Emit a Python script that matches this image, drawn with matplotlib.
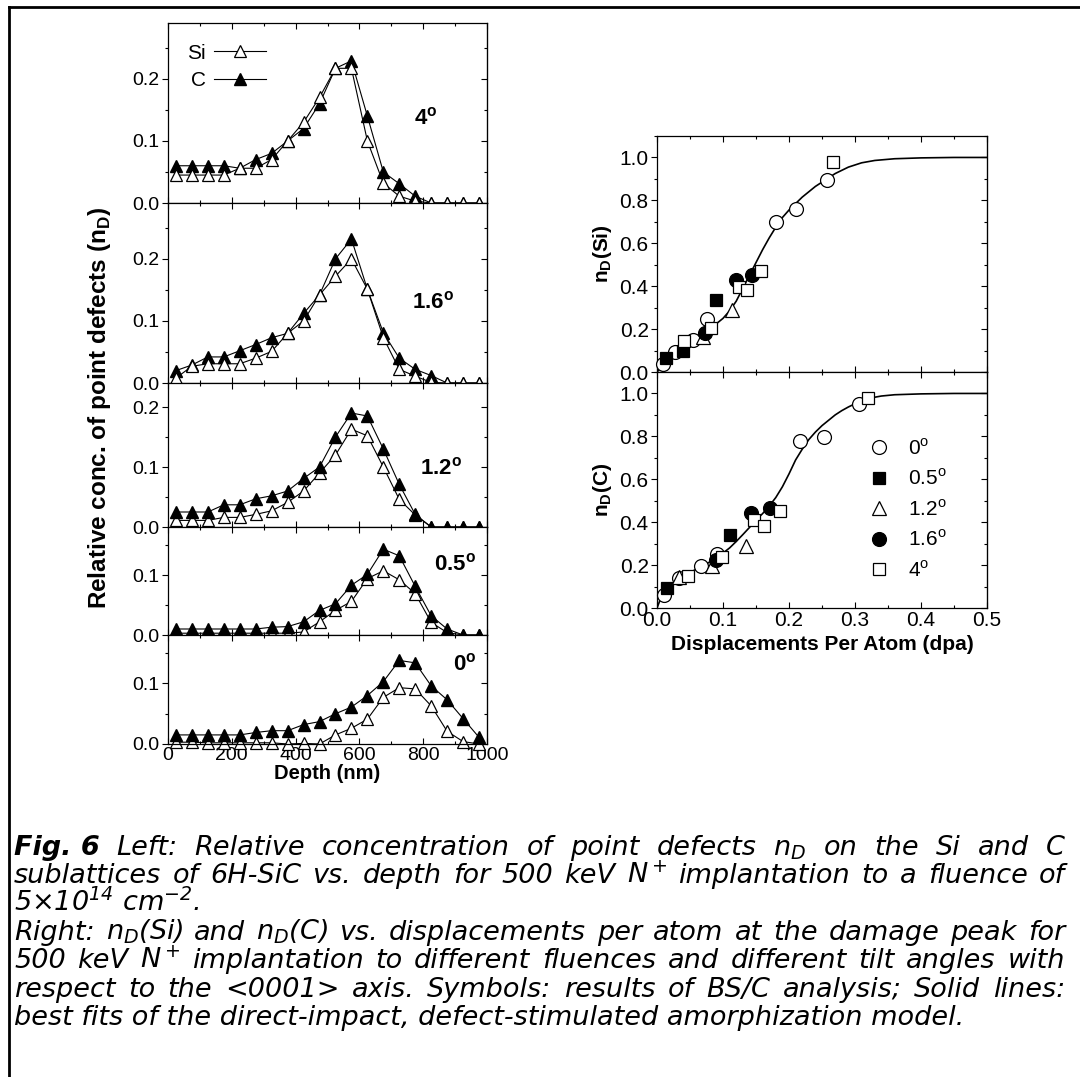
import matplotlib.pyplot as plt
from matplotlib.lines import Line2D
from matplotlib.ticker import MultipleLocator

plt.rcParams['font.family'] = 'Liberation Sans'
plt.rcParams['mathtext.fontset'] = 'custom'
plt.rcParams['mathtext.rm'] = 'DejaVu Sans:italic'
plt.rcParams['mathtext.it'] = 'DejaVu Sans:italic'
plt.rcParams['mathtext.bf'] = 'Liberation Sans:bold'
plt.rcParams['mathtext.sf'] = 'Liberation Sans'

# depth profiles (nm) of relative point defect concentration, Si and C sublattices
depth = [25, 75, 125, 175, 225, 275, 325, 375, 425, 475,
         525, 575, 625, 675, 725, 775, 825, 875, 925, 975]

si_4deg = [0.045, 0.045, 0.045, 0.045, 0.056, 0.056, 0.07, 0.10, 0.13, 0.17,
           0.217, 0.217, 0.10, 0.032, 0.011, 0.003, 0, 0, 0, 0]
c_4deg = [0.06, 0.06, 0.06, 0.06, 0.056, 0.07, 0.08, 0.10, 0.12, 0.16,
          0.217, 0.229, 0.14, 0.05, 0.031, 0.011, 0, 0, 0, 0]

si_16deg = [0.008, 0.027, 0.031, 0.031, 0.031, 0.04, 0.051, 0.08, 0.10, 0.142,
            0.172, 0.20, 0.151, 0.073, 0.022, 0.011, 0.001, 0, 0, 0]
c_16deg = [0.02, 0.029, 0.042, 0.042, 0.052, 0.062, 0.073, 0.08, 0.112, 0.142,
           0.20, 0.232, 0.151, 0.081, 0.04, 0.022, 0.012, 0, 0, 0]

si_12deg = [0.011, 0.011, 0.011, 0.016, 0.016, 0.021, 0.027, 0.041, 0.06, 0.09,
            0.12, 0.163, 0.152, 0.10, 0.046, 0.02, 0, 0, 0, 0]
c_12deg = [0.025, 0.025, 0.025, 0.037, 0.037, 0.047, 0.052, 0.06, 0.081, 0.10,
           0.15, 0.19, 0.185, 0.13, 0.071, 0.021, 0, 0, 0, 0]

si_05deg = [0.003, 0.003, 0.003, 0.003, 0.003, 0.003, 0.003, 0.003, 0.005, 0.022,
            0.041, 0.056, 0.094, 0.107, 0.092, 0.069, 0.021, 0.004, 0, 0]
c_05deg = [0.01, 0.01, 0.01, 0.01, 0.01, 0.01, 0.013, 0.014, 0.022, 0.041,
           0.052, 0.083, 0.101, 0.143, 0.132, 0.081, 0.032, 0.01, 0, 0]

si_0deg = [0.003, 0.003, 0.002, 0.002, 0.002, 0.002, 0.002, 0.0, 0.001, 0.0,
           0.015, 0.026, 0.041, 0.077, 0.093, 0.091, 0.063, 0.021, 0.004, 0.0]
c_0deg = [0.015, 0.015, 0.015, 0.015, 0.015, 0.019, 0.022, 0.022, 0.032, 0.037,
          0.05, 0.061, 0.08, 0.103, 0.138, 0.134, 0.096, 0.073, 0.042, 0.011]

tilts = ['4', '1.6', '1.2', '0.5', '0']
si_profiles = [si_4deg, si_16deg, si_12deg, si_05deg, si_0deg]
c_profiles = [c_4deg, c_16deg, c_12deg, c_05deg, c_0deg]

# n_D at the damage peak vs dpa
circ0_dpa_si = [0.009, 0.028, 0.055, 0.075, 0.18, 0.21, 0.258]
circ0_nd_si = [0.036, 0.093, 0.148, 0.249, 0.70, 0.759, 0.897]
sq05_dpa_si = [0.013, 0.04, 0.09]
sq05_nd_si = [0.067, 0.10, 0.337]
tri12_dpa_si = [0.07, 0.113]
tri12_nd_si = [0.163, 0.288]
dot16_dpa_si = [0.073, 0.12, 0.144]
dot16_nd_si = [0.18, 0.428, 0.451]
sq4_dpa_si = [0.041, 0.082, 0.124, 0.137, 0.157, 0.267]
sq4_nd_si = [0.143, 0.205, 0.397, 0.381, 0.47, 0.98]

circ0_dpa_c = [0.011, 0.033, 0.067, 0.091, 0.216, 0.253, 0.306]
circ0_nd_c = [0.059, 0.14, 0.194, 0.253, 0.778, 0.798, 0.95]
sq05_dpa_c = [0.015, 0.111]
sq05_nd_c = [0.093, 0.341]
tri12_dpa_c = [0.034, 0.084, 0.135]
tri12_nd_c = [0.144, 0.197, 0.29]
dot16_dpa_c = [0.089, 0.142, 0.171]
dot16_nd_c = [0.225, 0.442, 0.465]
sq4_dpa_c = [0.047, 0.099, 0.147, 0.162, 0.187, 0.32]
sq4_nd_c = [0.147, 0.24, 0.411, 0.38, 0.453, 0.981]

# model fit curves
fit_si_dpa = [0, 0.01, 0.02, 0.03, 0.04, 0.05, 0.06, 0.07, 0.08, 0.09, 0.10, 0.11,
              0.12, 0.13, 0.14, 0.15, 0.16, 0.17, 0.18, 0.19, 0.20, 0.21, 0.22,
              0.23, 0.24, 0.25, 0.26, 0.27, 0.29, 0.31, 0.33, 0.36, 0.40, 0.45, 0.5]
fit_si_nd = [0, 0.035, 0.065, 0.095, 0.12, 0.14, 0.16, 0.18, 0.20, 0.225, 0.25, 0.285,
             0.33, 0.39, 0.45, 0.51, 0.57, 0.625, 0.675, 0.72, 0.755, 0.785, 0.815,
             0.84, 0.865, 0.885, 0.905, 0.925, 0.955, 0.975, 0.986, 0.994, 0.998, 1.0, 1.0]
fit_c_dpa = [0, 0.005, 0.01, 0.02, 0.03, 0.04, 0.05, 0.06, 0.07, 0.08, 0.09, 0.10,
             0.11, 0.12, 0.13, 0.14, 0.15, 0.16, 0.17, 0.18, 0.19, 0.20, 0.21, 0.22,
             0.23, 0.24, 0.25, 0.26, 0.27, 0.28, 0.29, 0.30, 0.31, 0.32, 0.34, 0.36,
             0.40, 0.45, 0.5]
fit_c_nd = [0, 0.04, 0.065, 0.095, 0.125, 0.148, 0.165, 0.182, 0.197, 0.215, 0.235, 0.256,
            0.28, 0.31, 0.342, 0.375, 0.41, 0.44, 0.475, 0.515, 0.565, 0.625, 0.69, 0.74,
            0.785, 0.82, 0.85, 0.875, 0.9, 0.92, 0.937, 0.952, 0.966, 0.977, 0.988, 0.994,
            0.998, 1.0, 1.0]

W, H = 1080, 1077
fig = plt.figure(figsize=(W / 100, H / 100), dpi=100)


def rect(x0, y0, x1, y1):
    return [x0 / W, 1 - y1 / H, (x1 - x0) / W, (y1 - y0) / H]


# frame lines along top and left edge
fig.add_artist(Line2D([9 / W, 1], [1 - 7 / H, 1 - 7 / H], color='black', lw=2.0,
                      transform=fig.transFigure))
fig.add_artist(Line2D([9 / W, 9 / W], [0, 1 - 7 / H], color='black', lw=2.0,
                      transform=fig.transFigure))


def style_ticks(ax, xmaj, xmin, ymaj, ymin, size):
    ax.xaxis.set_major_locator(MultipleLocator(xmaj))
    ax.xaxis.set_minor_locator(MultipleLocator(xmin))
    ax.yaxis.set_major_locator(MultipleLocator(ymaj))
    ax.yaxis.set_minor_locator(MultipleLocator(ymin))
    ax.tick_params(axis='x', which='both', direction='in', top=True, bottom=True,
                   labelsize=size, pad=2)
    ax.tick_params(axis='y', which='both', direction='out', left=True, right=False,
                   labelsize=size, pad=2)
    ax.tick_params(which='major', length=4, width=0.8)
    ax.tick_params(which='minor', length=2.5, width=0.8)
    sec = ax.secondary_yaxis('right')
    sec.yaxis.set_major_locator(MultipleLocator(ymaj))
    sec.yaxis.set_minor_locator(MultipleLocator(ymin))
    sec.tick_params(which='both', direction='in', labelright=False, width=0.8)
    sec.tick_params(which='major', length=4)
    sec.tick_params(which='minor', length=2.5)
    for s in ax.spines.values():
        s.set_linewidth(0.9)


# left: stacked depth profiles
bounds = [23, 203, 383, 527, 635, 744]
ytops = [0.29, 0.29, 0.24, 0.18, 0.18]
label_pos = [(807, 0.137), (831, 0.13), (857, 0.098), (900, 0.118), (929, 0.132)]
si_on_top = [True, True, False, False, False]
left_axes = []
for i in range(5):
    ax = fig.add_axes(rect(168, bounds[i], 487, bounds[i + 1]))
    zs, zc = (3, 2) if si_on_top[i] else (2, 3)
    ax.plot(depth, c_profiles[i], '-^', color='black', lw=0.8, ms=8.5,
            mfc='black', mec='black', zorder=zc, clip_on=False, label='C')
    ax.plot(depth, si_profiles[i], '-^', color='black', lw=0.8, ms=8.5,
            mfc='white', mec='black', mew=0.9, zorder=zs, clip_on=False, label='Si')
    ax.set_xlim(0, 1000)
    ax.set_ylim(0, ytops[i])
    style_ticks(ax, 200, 100, 0.1, 0.05, 14)
    ax.text(label_pos[i][0], label_pos[i][1], tilts[i] + r'$^\mathbf{o}$',
            fontsize=16, fontweight='bold', ha='center', va='center')
    if i < 4:
        ax.tick_params(axis='x', labelbottom=False)
    left_axes.append(ax)

h_c, h_si = left_axes[0].get_legend_handles_labels()[0]
left_axes[0].legend([h_si, h_c], ['Si', 'C'], loc='upper left', bbox_to_anchor=(0.02, 0.955),
                    markerfirst=False, frameon=False, fontsize=15, handlelength=2.5,
                    handletextpad=0.4, labelspacing=0.4, borderpad=0.1)
left_axes[-1].set_xlabel('Depth (nm)', fontsize=14.5, fontweight='bold', labelpad=0)
fig.text(100 / W, 1 - 408 / H, r'Relative conc. of point defects (n$_\mathbf{D}$)',
         rotation=90, fontsize=17.5, fontweight='bold', ha='center', va='center')

# right: n_D vs dpa for Si and C
ax_si = fig.add_axes(rect(657, 136, 987, 372))
ax_c = fig.add_axes(rect(657, 372, 987, 608))
series_si = [(circ0_dpa_si, circ0_nd_si), (sq05_dpa_si, sq05_nd_si), (tri12_dpa_si, tri12_nd_si),
             (dot16_dpa_si, dot16_nd_si), (sq4_dpa_si, sq4_nd_si)]
series_c = [(circ0_dpa_c, circ0_nd_c), (sq05_dpa_c, sq05_nd_c), (tri12_dpa_c, tri12_nd_c),
            (dot16_dpa_c, dot16_nd_c), (sq4_dpa_c, sq4_nd_c)]
marks = [('o', 'white', 10), ('s', 'black', 9), ('^', 'white', 10), ('o', 'black', 10),
         ('s', 'white', 9)]

for ax, series, fx, fy, lab in [(ax_si, series_si, fit_si_dpa, fit_si_nd, 'Si'),
                                (ax_c, series_c, fit_c_dpa, fit_c_nd, 'C')]:
    ax.plot(fx, fy, color='black', lw=1.2, zorder=2)
    for (xs, ys), (m, fc, ms) in zip(series, marks):
        ax.plot(xs, ys, ls='none', marker=m, ms=ms, mfc=fc, mec='black', mew=0.9,
                zorder=3, clip_on=False)
    ax.set_xlim(0, 0.5)
    ax.set_ylim(0, 1.1)
    style_ticks(ax, 0.1, 0.05, 0.2, 0.1, 15)
    ax.set_ylabel(r'n$_\mathbf{D}$(' + lab + ')', fontsize=15, fontweight='bold', labelpad=4)

ax_si.tick_params(axis='x', labelbottom=False)
ax_c.set_xlabel('Displacements Per Atom (dpa)', fontsize=15, fontweight='bold', labelpad=4)

leg_handles = [Line2D([], [], ls='none', marker=m, ms=ms, mfc=fc, mec='black', mew=0.9)
               for m, fc, ms in marks]
leg_labels = [t + r'$^\mathsf{o}$' for t in ['0', '0.5', '1.2', '1.6', '4']]
ax_c.legend(leg_handles, leg_labels, loc='upper left', bbox_to_anchor=(0.61, 0.765),
            frameon=False, fontsize=15, handlelength=1.0, handletextpad=0.9,
            labelspacing=0.47, borderpad=0.0)

# caption, justified between the left margin and x = 1065 px
cap = dict(fontsize=19.5, family='DejaVu Sans', style='italic', va='baseline')
renderer = fig.canvas.get_renderer()


def caption_line(x0, y, text, justify=True, x1=1065):
    if not justify:
        fig.text(x0 / W, 1 - y / H, text, **cap)
        return
    words = text.split(' ')
    arts = [fig.text(0, 1 - y / H, w, **cap) for w in words]
    widths = [a.get_window_extent(renderer).width for a in arts]
    gap = (x1 - x0 - sum(widths)) / (len(words) - 1)
    x = x0
    for a, w in zip(arts, widths):
        a.set_x(x / W)
        x += w + gap


fig.text(14 / W, 1 - 855 / H, 'Fig. 6', fontweight='bold', **cap)
caption_line(116, 855, r'Left: Relative concentration of point defects $n_D$ on the Si and C')
caption_line(14, 883, r'sublattices of 6H-SiC vs. depth for 500 keV N$^+$ implantation to a fluence of')
caption_line(14, 911, r'5×10$^{14}$ cm$^{-2}$.', justify=False)
caption_line(14, 940, r'Right: $n_D$(Si) and $n_D$(C) vs. displacements per atom at the damage peak for')
caption_line(14, 968, r'500 keV N$^+$ implantation to different fluences and different tilt angles with')
caption_line(14, 997, r'respect to the <0001> axis. Symbols: results of BS/C analysis; Solid lines:')
caption_line(14, 1025, r'best fits of the direct-impact, defect-stimulated amorphization model.', justify=False)

fig.savefig('out.png', dpi=100)
